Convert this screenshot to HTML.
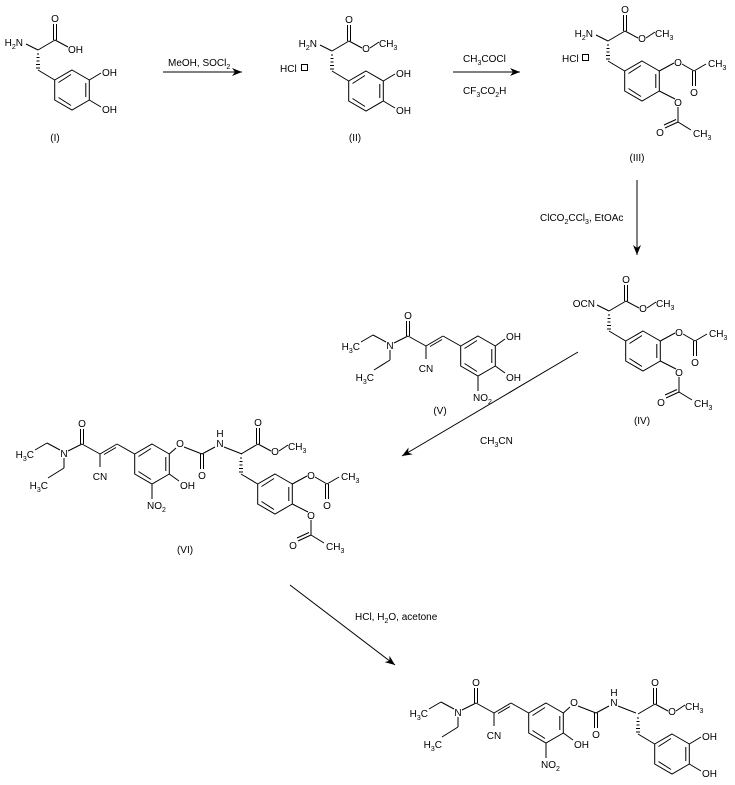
<!DOCTYPE html>
<html><head><meta charset="utf-8"><style>
html,body{margin:0;padding:0;background:#fff;}
svg{display:block;}
text{font-family:"Liberation Sans",Arial,sans-serif;font-size:10px;fill:#000;}
.s{font-size:7px;}
</style></head><body>
<svg width="735" height="785" viewBox="0 0 735 785" xmlns="http://www.w3.org/2000/svg">
<defs>
<marker id="ah" markerWidth="10" markerHeight="8" refX="10" refY="4" orient="auto" markerUnits="userSpaceOnUse">
<path d="M0,0 L10,4 L0,8 L3,4 z" fill="#000"/></marker>
<g id="ring" stroke="#000" stroke-width="1" fill="none">
<polygon points="0,-20 17.3,-10 17.3,10 0,20 -17.3,10 -17.3,-10"/>
<line x1="-13.5" y1="-7.5" x2="-1" y2="-15.5"/>
<line x1="13.8" y1="-7" x2="13.8" y2="7"/>
<line x1="-1" y1="15.5" x2="-13.5" y2="7.5"/>
</g>
<g id="chain" stroke="#000" stroke-width="1" fill="none">
<line x1="-17.3" y1="-10" x2="-34" y2="-20"/>
<line x1="-36" y1="-22" x2="-32" y2="-22"/>
<line x1="-36" y1="-25.5" x2="-32" y2="-25.5"/>
<line x1="-35.5" y1="-29" x2="-32.5" y2="-29"/>
<line x1="-35.5" y1="-32.5" x2="-32.5" y2="-32.5"/>
<line x1="-35" y1="-36" x2="-33" y2="-36"/>
<line x1="-34" y1="-40" x2="-17" y2="-50"/>
<line x1="-18.5" y1="-50" x2="-18.5" y2="-66"/>
<line x1="-15.5" y1="-50" x2="-15.5" y2="-66"/>
</g>
<g id="nbond" stroke="#000" stroke-width="1"><line x1="-34" y1="-40" x2="-46" y2="-46"/></g>
<g id="ester" stroke="#000" stroke-width="1">
<line x1="-17" y1="-50" x2="-4" y2="-43"/><line x1="4" y1="-43" x2="13" y2="-49"/></g>
<g id="dioh" stroke="#000" stroke-width="1">
<line x1="17.3" y1="-10" x2="29" y2="-17"/><line x1="17.3" y1="10" x2="29" y2="17"/></g>
<g id="dioac" stroke="#000" stroke-width="1" fill="none">
<line x1="17.3" y1="-10" x2="32" y2="-18"/>
<line x1="40" y1="-17" x2="52" y2="-10"/>
<line x1="52" y1="-10" x2="64" y2="-17"/>
<line x1="50.5" y1="-10" x2="50.5" y2="5"/><line x1="53.5" y1="-10" x2="53.5" y2="5"/>
<line x1="17.3" y1="10" x2="33" y2="18"/>
<line x1="36" y1="26" x2="36" y2="41"/>
<line x1="36" y1="41" x2="49" y2="49"/>
<line x1="36" y1="41" x2="23" y2="47"/><line x1="34" y1="38.5" x2="22" y2="44"/>
</g>
<g id="left" stroke="#000" stroke-width="1" fill="none">
<line x1="-17.3" y1="-10" x2="-35" y2="-20"/>
<line x1="-35" y1="-20" x2="-52" y2="-10"/>
<line x1="-36" y1="-16.5" x2="-48" y2="-9.5"/>
<line x1="-52" y1="-10" x2="-52" y2="3"/>
<line x1="-52" y1="-10" x2="-70" y2="-20"/>
<line x1="-71.5" y1="-20" x2="-71.5" y2="-35"/><line x1="-68.5" y1="-20" x2="-68.5" y2="-35"/>
<line x1="-70" y1="-20" x2="-84" y2="-13"/>
<line x1="-92" y1="-14" x2="-105" y2="-21"/>
<line x1="-105" y1="-21" x2="-117" y2="-14"/>
<line x1="-88" y1="-6" x2="-88" y2="4"/>
<line x1="-88" y1="4" x2="-104" y2="14"/>
<line x1="0" y1="20" x2="0" y2="35"/>
<line x1="17.3" y1="10" x2="27" y2="17"/>
</g>
<g id="carb" stroke="#000" stroke-width="1">
<line x1="17.3" y1="-10" x2="24" y2="-16"/>
<line x1="32" y1="-17" x2="50" y2="-10"/>
<line x1="48.5" y1="-10" x2="48.5" y2="5"/><line x1="51.5" y1="-10" x2="51.5" y2="5"/>
<line x1="50" y1="-10" x2="63" y2="-17"/>
<line x1="72" y1="-17" x2="90" y2="-10"/>
</g>
</defs>
<rect width="735" height="785" fill="#fff"/>

<!-- (I) -->
<g transform="translate(72,90)">
<use href="#ring"/><use href="#chain"/><use href="#nbond"/><use href="#dioh"/>
<line x1="-17" y1="-50" x2="-4" y2="-43" stroke="#000"/>
<text x="-49" y="-44" text-anchor="end">H<tspan class="s" dy="3">2</tspan><tspan dy="-3">N</tspan></text>
<text x="-17" y="-68" text-anchor="middle">O</text>
<text x="-4" y="-37">OH</text>
<text x="30" y="-14">OH</text><text x="30" y="23">OH</text>
</g>
<text x="55" y="141" text-anchor="middle">(I)</text>

<line x1="163" y1="72" x2="242" y2="72" stroke="#000" marker-end="url(#ah)"/>
<text x="168" y="66">MeOH, SOCl<tspan class="s" dy="3">2</tspan></text>

<!-- (II) -->
<g transform="translate(366,91)">
<use href="#ring"/><use href="#chain"/><use href="#nbond"/><use href="#ester"/><use href="#dioh"/>
<text x="-49" y="-44" text-anchor="end">H<tspan class="s" dy="3">2</tspan><tspan dy="-3">N</tspan></text>
<text x="-17" y="-68" text-anchor="middle">O</text>
<text x="0" y="-39" text-anchor="middle">O</text>
<text x="13" y="-44">CH<tspan class="s" dy="3">3</tspan></text>
<text x="30" y="-14">OH</text><text x="30" y="23">OH</text>
</g>
<text x="280" y="72">HCl</text><rect x="301.5" y="64.5" width="6" height="6" fill="none" stroke="#000"/>
<text x="355" y="141" text-anchor="middle">(II)</text>

<line x1="453" y1="72" x2="520" y2="72" stroke="#000" marker-end="url(#ah)"/>
<text x="463" y="62">CH<tspan class="s" dy="3">3</tspan><tspan dy="-3">COCl</tspan></text>
<text x="463" y="94">CF<tspan class="s" dy="3">3</tspan><tspan dy="-3">CO</tspan><tspan class="s" dy="3">2</tspan><tspan dy="-3">H</tspan></text>

<!-- (III) -->
<g transform="translate(642,81)">
<use href="#ring"/><use href="#chain"/><use href="#nbond"/><use href="#ester"/><use href="#dioac"/>
<text x="-49" y="-44" text-anchor="end">H<tspan class="s" dy="3">2</tspan><tspan dy="-3">N</tspan></text>
<text x="-17" y="-68" text-anchor="middle">O</text>
<text x="0" y="-39" text-anchor="middle">O</text>
<text x="13" y="-44">CH<tspan class="s" dy="3">3</tspan></text>
<text x="36" y="-15" text-anchor="middle">O</text>
<text x="66" y="-14">CH<tspan class="s" dy="3">3</tspan></text>
<text x="52" y="15" text-anchor="middle">O</text>
<text x="36" y="25" text-anchor="middle">O</text>
<text x="18" y="55" text-anchor="middle">O</text>
<text x="51" y="56">CH<tspan class="s" dy="3">3</tspan></text>
</g>
<text x="562" y="62">HCl</text><rect x="582.5" y="54.5" width="6" height="6" fill="none" stroke="#000"/>
<text x="637" y="161" text-anchor="middle">(III)</text>

<line x1="637" y1="180" x2="637" y2="255" stroke="#000" marker-end="url(#ah)"/>
<text x="540" y="221">ClCO<tspan class="s" dy="3">2</tspan><tspan dy="-3">CCl</tspan><tspan class="s" dy="3">3</tspan><tspan dy="-3">, EtOAc</tspan></text>

<!-- (IV) -->
<g transform="translate(643,351)">
<use href="#ring"/><use href="#chain"/><use href="#nbond"/><use href="#ester"/><use href="#dioac"/>
<text x="-48" y="-44" text-anchor="end">OCN</text>
<text x="-17" y="-68" text-anchor="middle">O</text>
<text x="0" y="-39" text-anchor="middle">O</text>
<text x="13" y="-44">CH<tspan class="s" dy="3">3</tspan></text>
<text x="36" y="-15" text-anchor="middle">O</text>
<text x="66" y="-14">CH<tspan class="s" dy="3">3</tspan></text>
<text x="52" y="15" text-anchor="middle">O</text>
<text x="36" y="25" text-anchor="middle">O</text>
<text x="18" y="55" text-anchor="middle">O</text>
<text x="51" y="56">CH<tspan class="s" dy="3">3</tspan></text>
</g>
<text x="642" y="424" text-anchor="middle">(IV)</text>

<!-- (V) -->
<g transform="translate(478,356)">
<use href="#ring"/><use href="#left"/>
<line x1="17.3" y1="-10" x2="27" y2="-17" stroke="#000"/>
<text x="-70" y="-37" text-anchor="middle">O</text>
<text x="-88" y="-7" text-anchor="middle">N</text>
<text x="-52" y="16" text-anchor="middle">CN</text>
<text x="-118" y="-6" text-anchor="end">H<tspan class="s" dy="3">3</tspan><tspan dy="-3">C</tspan></text>
<text x="-104" y="25" text-anchor="end">H<tspan class="s" dy="3">3</tspan><tspan dy="-3">C</tspan></text>
<text x="-5" y="45">NO<tspan class="s" dy="3">2</tspan></text>
<text x="28" y="-16">OH</text><text x="28" y="25">OH</text>
</g>
<text x="440" y="414" text-anchor="middle">(V)</text>

<line x1="578" y1="352" x2="402" y2="456" stroke="#000" marker-end="url(#ah)"/>
<text x="480" y="444">CH<tspan class="s" dy="3">3</tspan><tspan dy="-3">CN</tspan></text>

<!-- (VI) -->
<g transform="translate(152,464)">
<use href="#ring"/><use href="#left"/><use href="#carb"/>
<text x="-70" y="-37" text-anchor="middle">O</text>
<text x="-88" y="-7" text-anchor="middle">N</text>
<text x="-52" y="16" text-anchor="middle">CN</text>
<text x="-118" y="-6" text-anchor="end">H<tspan class="s" dy="3">3</tspan><tspan dy="-3">C</tspan></text>
<text x="-104" y="25" text-anchor="end">H<tspan class="s" dy="3">3</tspan><tspan dy="-3">C</tspan></text>
<text x="-5" y="45">NO<tspan class="s" dy="3">2</tspan></text>
<text x="28" y="25">OH</text>
<text x="28" y="-17" text-anchor="middle">O</text>
<text x="50" y="15" text-anchor="middle">O</text>
<text x="68" y="-17" text-anchor="middle">N</text>
<text x="68" y="-27" text-anchor="middle">H</text>
</g>
<g transform="translate(275,494)">
<use href="#ring"/><use href="#chain"/><use href="#ester"/><use href="#dioac"/>
<text x="-17" y="-68" text-anchor="middle">O</text>
<text x="0" y="-39" text-anchor="middle">O</text>
<text x="13" y="-44">CH<tspan class="s" dy="3">3</tspan></text>
<text x="36" y="-15" text-anchor="middle">O</text>
<text x="66" y="-14">CH<tspan class="s" dy="3">3</tspan></text>
<text x="52" y="15" text-anchor="middle">O</text>
<text x="36" y="25" text-anchor="middle">O</text>
<text x="18" y="55" text-anchor="middle">O</text>
<text x="51" y="56">CH<tspan class="s" dy="3">3</tspan></text>
</g>
<text x="185" y="553" text-anchor="middle">(VI)</text>

<line x1="290" y1="585" x2="395" y2="665" stroke="#000" marker-end="url(#ah)"/>
<text x="355" y="620">HCl, H<tspan class="s" dy="3">2</tspan><tspan dy="-3">O, acetone</tspan></text>

<!-- final -->
<g transform="translate(546,723)">
<use href="#ring"/><use href="#left"/><use href="#carb"/>
<text x="-70" y="-37" text-anchor="middle">O</text>
<text x="-88" y="-7" text-anchor="middle">N</text>
<text x="-52" y="16" text-anchor="middle">CN</text>
<text x="-118" y="-6" text-anchor="end">H<tspan class="s" dy="3">3</tspan><tspan dy="-3">C</tspan></text>
<text x="-104" y="25" text-anchor="end">H<tspan class="s" dy="3">3</tspan><tspan dy="-3">C</tspan></text>
<text x="-5" y="45">NO<tspan class="s" dy="3">2</tspan></text>
<text x="28" y="25">OH</text>
<text x="28" y="-17" text-anchor="middle">O</text>
<text x="50" y="15" text-anchor="middle">O</text>
<text x="68" y="-17" text-anchor="middle">N</text>
<text x="68" y="-27" text-anchor="middle">H</text>
</g>
<g transform="translate(672,754)">
<use href="#ring"/><use href="#chain"/><use href="#ester"/><use href="#dioh"/>
<text x="-17" y="-68" text-anchor="middle">O</text>
<text x="0" y="-39" text-anchor="middle">O</text>
<text x="13" y="-44">CH<tspan class="s" dy="3">3</tspan></text>
<text x="30" y="-14">OH</text><text x="30" y="23">OH</text>
</g>
</svg>
</body></html>
